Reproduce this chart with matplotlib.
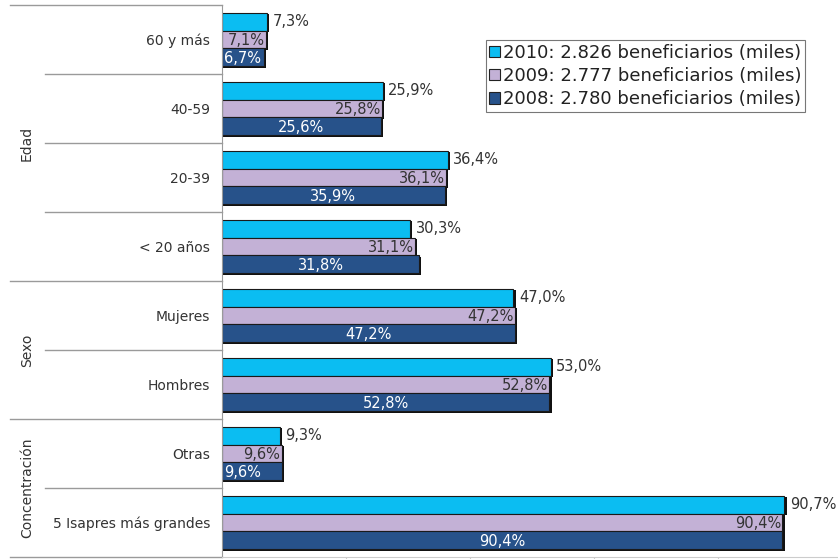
import numpy as np
import matplotlib
matplotlib.use("Agg")
import matplotlib.pyplot as plt
from matplotlib.transforms import blended_transform_factory
from matplotlib.patches import Patch

categories = ["60 y más", "40-59", "20-39", "< 20 años",
              "Mujeres", "Hombres", "Otras", "5 Isapres más grandes"]
groups = [("Edad", 0, 4), ("Sexo", 4, 6), ("Concentración", 6, 8)]
v2010 = [7.3, 25.9, 36.4, 30.3, 47.0, 53.0, 9.3, 90.7]
v2009 = [7.1, 25.8, 36.1, 31.1, 47.2, 52.8, 9.6, 90.4]
v2008 = [6.7, 25.6, 35.9, 31.8, 47.2, 52.8, 9.6, 90.4]
legend_labels = ["2010: 2.826 beneficiarios (miles)",
                 "2009: 2.777 beneficiarios (miles)",
                 "2008: 2.780 beneficiarios (miles)"]

c2010 = "#0BBDF2"
c2009 = "#C3B1D6"
c2008 = "#27528A"
txt = "#333333"
grid = "#9a9a9a"

def fmt(v):
    return f"{v:.1f}%".replace(".", ",")

fig = plt.figure(figsize=(8.38, 5.59), dpi=100)
ax = fig.add_axes([222/838, 1-557/559, 1-222/838, 552/559])

y = np.arange(len(categories))
h = 0.26
fs = 10.5
series = [(v2010, c2010, -h), (v2009, c2009, 0), (v2008, c2008, h)]
for vals, col, off in series:
    # drop shadow
    ax.barh(y + off + 0.025, np.array(vals) + 0.35, height=h, left=0,
            color="#111111", zorder=1)
    ax.barh(y + off, vals, height=h, color=col, edgecolor="#1a1a1a",
            linewidth=0.8, zorder=2)

for i in range(len(categories)):
    ax.text(v2010[i] + 0.9, y[i] - h, fmt(v2010[i]), va="center", ha="left",
            fontsize=fs, color=txt)
    ax.text(v2009[i] - 0.2, y[i] + 0.02, fmt(v2009[i]), va="center", ha="right",
            fontsize=fs, color=txt, zorder=3)
    if v2008[i] < 12:
        ax.text(0.4, y[i] + h + 0.02, fmt(v2008[i]), va="center", ha="left",
                fontsize=fs, color="white", zorder=3)
    else:
        ax.text(v2008[i] / 2, y[i] + h + 0.02, fmt(v2008[i]), va="center",
                ha="center", fontsize=fs, color="white", zorder=3)

ax.set_xlim(0, 616 / 6.2)
ax.set_ylim(len(categories) - 0.5, -0.5)
ax.set_yticks(y)
ax.set_yticklabels(categories, fontsize=10, color=txt)
ax.tick_params(axis="y", length=0, pad=8.5)
ax.set_xticks([20, 40, 60, 80])
ax.tick_params(axis="x", length=4, color="#cccccc", labelbottom=False)
for s in ["top", "right"]:
    ax.spines[s].set_visible(False)
ax.spines["left"].set_color(grid)
ax.spines["bottom"].set_color("#cccccc")

# left side separators and group labels
tr = blended_transform_factory(fig.transFigure, ax.transData)
group_edges = {g[1] for g in groups} | {len(categories)}
for k in range(len(categories) + 1):
    x0 = 10/838 if k in group_edges else 45/838
    ax.plot([x0, 222/838], [k - 0.5, k - 0.5], color=grid, lw=1,
            transform=tr, clip_on=False)
for name, a, b in groups:
    ax.text(27/838, (a + b - 1) / 2, name, rotation=90, ha="center",
            va="center", fontsize=10, color=txt, transform=tr)

handles = [Patch(facecolor=c, edgecolor="#222222", lw=0.8)
           for c in (c2010, c2009, c2008)]
leg = fig.legend(handles, legend_labels, loc="upper right",
                 bbox_to_anchor=(805/838, 1-40/559), fontsize=13,
                 frameon=True, fancybox=False, handlelength=0.6,
                 handleheight=0.6, handletextpad=0.15, borderpad=0.2,
                 labelspacing=0.3, borderaxespad=0)
leg.get_frame().set_edgecolor("#555555")
leg.get_frame().set_linewidth(0.8)
for t in leg.get_texts():
    t.set_color("#222222")

fig.savefig("out.png", dpi=100)
